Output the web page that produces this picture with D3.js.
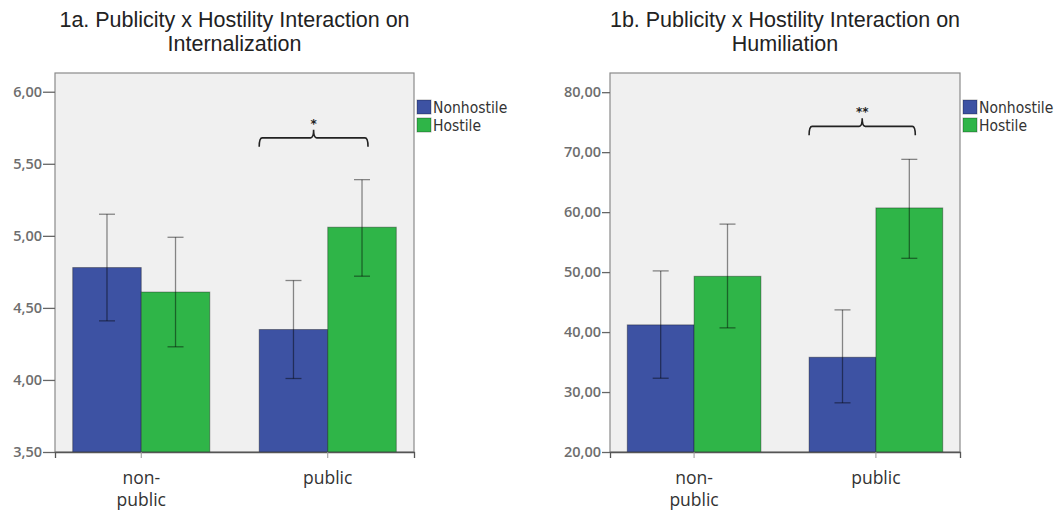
<!DOCTYPE html>
<html>
<head>
<meta charset="utf-8">
<script src="https://cdn.jsdelivr.net/npm/d3@7"></script>
<style>
  body { margin: 0; background: #fff; }
  svg { display: block; }
</style>
</head>
<body>
<div id="chart"></div>
<script>
// data
var groups = ["non-public", "public"];
var groupLabels = [["non-", "public"], ["public"]];
var seriesNames = ["Nonhostile", "Hostile"];
var seriesColors = ["#3d52a3", "#2fb548"];

var intNonhostile = [4.78, 4.35];
var intNonhostileCI = [[4.41, 5.15], [4.01, 4.69]];
var intHostile = [4.61, 5.06];
var intHostileCI = [[4.23, 4.99], [4.72, 5.39]];
var intTicks = [3.5, 4.0, 4.5, 5.0, 5.5, 6.0];

var humNonhostile = [41.2, 35.8];
var humNonhostileCI = [[32.3, 50.2], [28.2, 43.7]];
var humHostile = [49.3, 60.7];
var humHostileCI = [[40.7, 58.0], [52.3, 68.8]];
var humTicks = [20, 30, 40, 50, 60, 70, 80];

var svg = d3.select("#chart")
    .append("svg")
    .attr("width", 1064)
    .attr("height", 512);

function draw_panel(opt) {
  "use strict";
  var w = opt.right - opt.left,
      h = opt.bottom - opt.top;

  var rows = [];
  groups.forEach(function(g, i) {
    rows.push({group: g, series: "Nonhostile", value: opt.nonhostile[i], ci: opt.nonhostileCI[i]});
    rows.push({group: g, series: "Hostile", value: opt.hostile[i], ci: opt.hostileCI[i]});
  });

  var x = d3.scaleBand().domain(groups).range([0, w]).paddingInner(0.265).paddingOuter(0.095);
  var xs = d3.scaleBand().domain(seriesNames).range([0, x.bandwidth()]);
  var color = d3.scaleOrdinal().domain(seriesNames).range(seriesColors);
  var y = d3.scaleLinear().domain(opt.domain).range([h, 0]);

  // titles, centred over the plot
  var tx = (opt.left + opt.right) / 2;
  var title = svg.append("text")
      .attr("x", tx)
      .attr("y", 27)
      .attr("text-anchor", "middle")
      .style("font-family", "Liberation Sans, Arial, sans-serif")
      .style("font-size", "21.5px")
      .style("fill", "#222");
  title.append("tspan").attr("x", tx).text(opt.title[0]);
  title.append("tspan").attr("x", tx).attr("dy", 24).text(opt.title[1]);

  var g = svg.append("g")
      .attr("transform", "translate(" + opt.left + "," + opt.top + ")");

  g.append("rect")
      .attr("width", w)
      .attr("height", h)
      .style("fill", "#f0f0f0")
      .style("stroke", "#8a8a8a")
      .style("stroke-width", 1.2);

  g.selectAll(".bar")
      .data(rows)
      .enter()
      .append("rect")
      .attr("class", "bar")
      .attr("x", function(d) { return x(d.group) + xs(d.series); })
      .attr("y", function(d) { return y(d.value); })
      .attr("width", xs.bandwidth())
      .attr("height", function(d) { return h - y(d.value); })
      .style("fill", function(d) { return color(d.series); })
      .style("stroke", "rgba(0,0,0,0.35)")
      .style("stroke-width", 1);

  // error bars
  var err = g.selectAll(".err")
      .data(rows)
      .enter()
      .append("g")
      .attr("class", "err")
      .attr("transform", function(d) { return "translate(" + (x(d.group) + xs(d.series) + xs.bandwidth() / 2) + ",0)"; })
      .style("stroke", "rgba(0,0,0,0.45)")
      .style("stroke-width", 1.3);
  err.append("line")
      .attr("y1", function(d) { return y(d.ci[0]); })
      .attr("y2", function(d) { return y(d.ci[1]); });
  err.append("line")
      .attr("x1", -8).attr("x2", 8)
      .attr("y1", function(d) { return y(d.ci[1]); })
      .attr("y2", function(d) { return y(d.ci[1]); });
  err.append("line")
      .attr("x1", -8).attr("x2", 8)
      .attr("y1", function(d) { return y(d.ci[0]); })
      .attr("y2", function(d) { return y(d.ci[0]); });

  // significance bracket
  var bx0 = x("public") + xs("Nonhostile"),
      bx1 = x("public") + xs("Hostile") + xs.bandwidth() / 2 + 6,
      bm = (bx0 + bx1) / 2,
      by = y(opt.bracket);
  g.append("path")
      .attr("d", "M" + bx0 + "," + (by + 9) + " Q" + bx0 + "," + by + " " + (bx0 + 3) + "," + by +
                 " L" + (bm - 3) + "," + by + " Q" + bm + "," + by + " " + bm + "," + (by - 8) +
                 " Q" + bm + "," + by + " " + (bm + 3) + "," + by +
                 " L" + (bx1 - 3) + "," + by + " Q" + bx1 + "," + by + " " + bx1 + "," + (by + 9))
      .style("fill", "none")
      .style("stroke", "#222")
      .style("stroke-width", 1.6);
  g.append("text")
      .attr("x", bm)
      .attr("y", by - 10)
      .attr("text-anchor", "middle")
      .style("font-family", "DejaVu Sans, sans-serif")
      .style("font-size", "12px")
      .style("font-weight", "bold")
      .style("fill", "#222")
      .text(opt.sig);

  // y axis
  var yAxis = g.append("g")
      .call(d3.axisLeft(y).tickValues(opt.ticks).tickSize(opt.tickLen).tickPadding(1)
        .tickFormat(function(v) { return d3.format(".2f")(v).replace(".", ","); }));
  yAxis.select(".domain").remove();
  yAxis.selectAll(".tick line").style("stroke", "#666").style("stroke-width", 1.3);
  yAxis.selectAll(".tick text")
      .style("font-family", "Open Sans, sans-serif")
      .style("font-size", "14.5px")
      .style("font-weight", "600")
      .style("fill", "#6e6e6e");

  // x axis
  var xAxis = g.append("g")
      .attr("transform", "translate(0," + h + ")")
      .call(d3.axisBottom(x).tickSize(6).tickFormat(""));
  xAxis.select(".domain").style("stroke", "#555").style("stroke-width", 1.3);
  xAxis.selectAll(".tick line").style("stroke", "#999");

  groupLabels.forEach(function(lines, i) {
    var t = g.append("text")
        .attr("text-anchor", "middle")
        .attr("y", h + 32)
        .style("font-family", "Open Sans, sans-serif")
        .style("font-size", "17.5px")
        .style("fill", "#333");
    lines.forEach(function(s, j) {
      t.append("tspan")
          .attr("x", x(groups[i]) + x.bandwidth() / 2)
          .attr("dy", j === 0 ? 0 : 22)
          .text(s);
    });
  });

  // legend
  var leg = svg.append("g")
      .attr("transform", "translate(" + (opt.right + 3) + "," + (opt.top + 27) + ")");
  seriesNames.forEach(function(s, i) {
    leg.append("rect")
        .attr("x", 0)
        .attr("y", i * 18)
        .attr("width", 14)
        .attr("height", 14)
        .style("fill", color(s))
        .style("stroke", "rgba(0,0,0,0.3)");
    leg.append("text")
        .attr("x", 16)
        .attr("y", i * 18 + 13)
        .style("font-family", "DejaVu Sans Condensed, DejaVu Sans, sans-serif")
        .style("font-size", "15.5px")
        .style("fill", "#333")
        .text(s);
  });
}

draw_panel({
  left: 55, right: 414, top: 73, bottom: 452, tickLen: 12,
  domain: [3.5, 6.13], ticks: intTicks,
  nonhostile: intNonhostile, nonhostileCI: intNonhostileCI,
  hostile: intHostile, hostileCI: intHostileCI,
  bracket: 5.68, sig: "*",
  title: ["1a. Publicity x Hostility Interaction on", "Internalization"]
});

draw_panel({
  left: 610, right: 960, top: 73, bottom: 452, tickLen: 8,
  domain: [20, 83.2], ticks: humTicks,
  nonhostile: humNonhostile, nonhostileCI: humNonhostileCI,
  hostile: humHostile, hostileCI: humHostileCI,
  bracket: 74.3, sig: "**",
  title: ["1b. Publicity x Hostility Interaction on", "Humiliation"]
});
</script>
</body>
</html>
